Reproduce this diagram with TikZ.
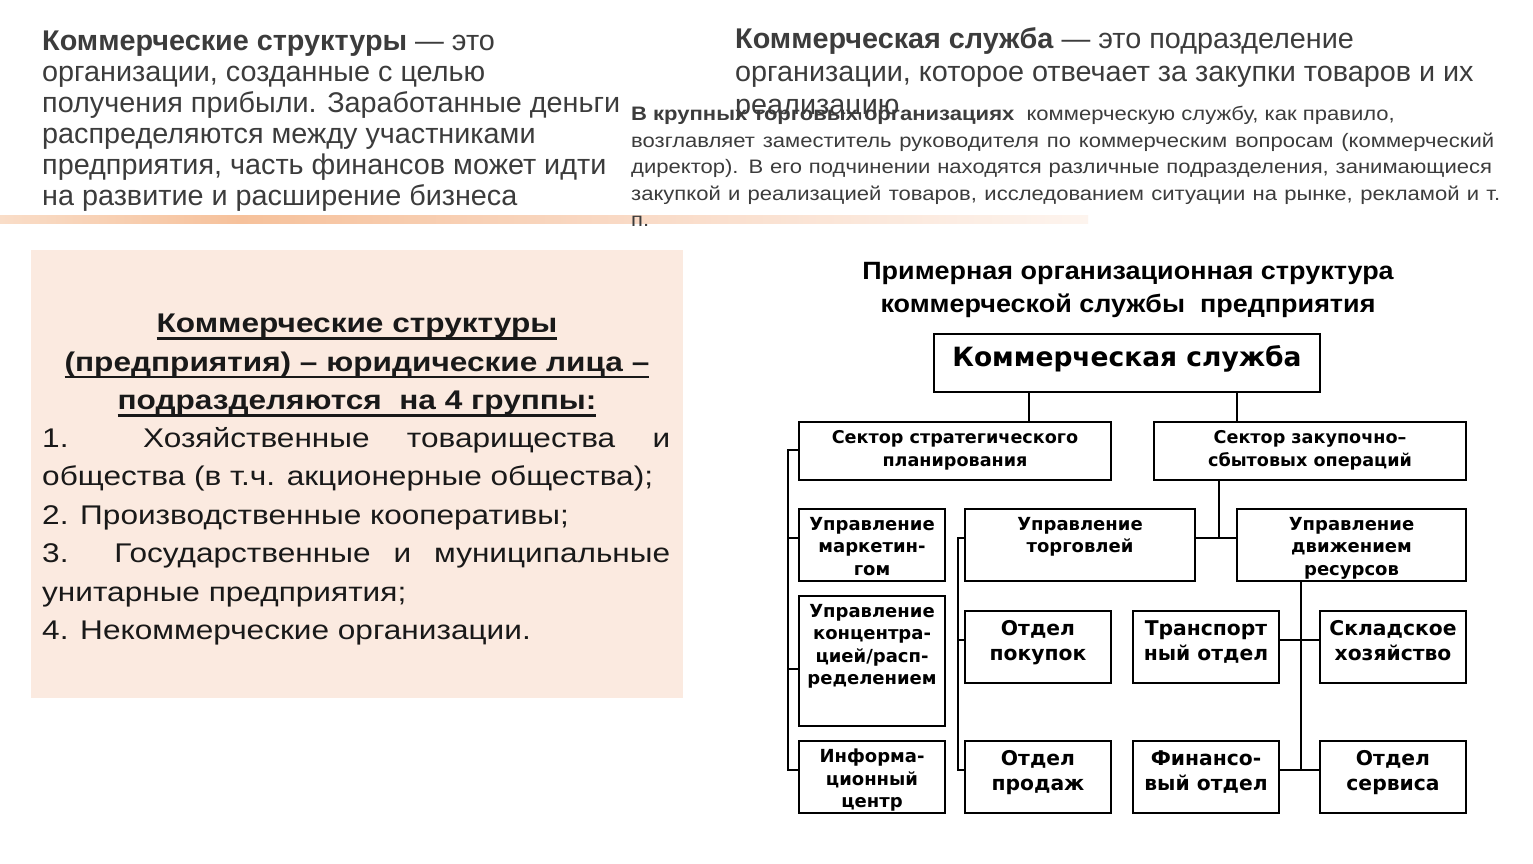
\documentclass[tikz,border=0pt]{standalone}
\usepackage{fontspec}
\setmainfont{Liberation Sans}
\newfontfamily\verd{DejaVu Sans}
\newfontfamily\topfont[FakeStretch=1.01]{Liberation Sans}
\newfontfamily\parafont[FakeStretch=1.13]{Liberation Sans}
\newfontfamily\pinkfont[FakeStretch=1.17]{Liberation Sans}
\newfontfamily\titfont[FakeStretch=1.078]{Liberation Sans}
\usetikzlibrary{calc}
\hyphenpenalty=10000
\exhyphenpenalty=10000
\definecolor{peach}{RGB}{251,234,224}
\definecolor{barA}{RGB}{249,221,200}
\definecolor{barB}{RGB}{246,193,155}
\definecolor{barM}{RGB}{249,218,198}
\definecolor{barC}{RGB}{253,244,238}
\definecolor{gtxt}{RGB}{60,60,60}
\definecolor{btxt}{RGB}{25,25,25}
\pgfdeclarehorizontalshading{barshade}{100bp}{color(0bp)=(barA); color(25bp)=(barA); color(36bp)=(barB); color(54bp)=(barM); color(75bp)=(barC); color(100bp)=(barC)}
\newcommand{\myul}[1]{\leavevmode\setbox0\hbox{#1}\rlap{\rule[-7pt]{\wd0}{2.5pt}}\box0}
\newcommand{\jline}[2]{\makebox[#1][s]{#2}}
\begin{document}
\begin{tikzpicture}[x=1pt,y=-1pt,
  box/.style={draw=black, line width=2pt, inner sep=0pt, outer sep=0pt, anchor=north west},
  lab/.style={font=\verd\bfseries\fontsize{18}{22.5}\selectfont, align=center, anchor=north, inner sep=0pt, text=black},
  labbig/.style={font=\verd\bfseries\fontsize{20.3}{25}\selectfont, align=center, anchor=north, inner sep=0pt, text=black},
  conn/.style={line width=2pt, draw=black},
]
\useasboundingbox (0,0) rectangle (1533,864);
\fill[white] (0,0) rectangle (1533,864);
% gradient bar
\shade[shading=barshade] (0,215) rectangle (1088,223);

% top-left text
\node[anchor=north west, inner sep=0pt, align=left, font=\topfont\fontsize{28.5}{31}\selectfont, text=gtxt] (tl) at (42,31)
 {\textbf{Коммерческие структуры} — это\\организации, созданные с целью\\получения прибыли. Заработанные деньги\\распределяются между участниками\\предприятия, часть финансов может идти\\на развитие и расширение бизнеса};

% top-right text
\node[anchor=north west, inner sep=0pt, align=left, font=\topfont\fontsize{28.5}{33}\selectfont, text=gtxt] (tr) at (735,27)
 {\textbf{Коммерческая служба} — это подразделение\\организации, которое отвечает за закупки товаров и их\\реализацию};

% small paragraph
\node[anchor=north west, inner sep=0pt, align=left, font=\parafont\fontsize{19.5}{26.5}\selectfont, text=gtxt] (para) at (631,106)
 {\textbf{В крупных торговых организациях}\ \ коммерческую службу, как правило,\\
  \jline{863pt}{возглавляет заместитель руководителя по коммерческим вопросам (коммерческий}\\
  \jline{861pt}{директор). В его подчинении находятся различные подразделения, занимающиеся}\\
  \jline{869pt}{закупкой и реализацией товаров, исследованием ситуации на рынке, рекламой и т.}\\
  п.};

% pink box
\node[box, draw=none, fill=peach, minimum width=652pt, minimum height=448pt] (pink) at (31,250) {};
\node[anchor=north, inner sep=0pt, align=center, font=\pinkfont\bfseries\fontsize{27}{38.5}\selectfont, text=btxt] (ptitle) at (357,314)
 {\myul{Коммерческие структуры}\\\myul{(предприятия) – юридические лица –}\\\myul{подразделяются\ \ на 4 группы:}};
\node[anchor=north west, inner sep=0pt, align=left, font=\pinkfont\fontsize{27}{38.5}\selectfont, text=btxt] (plist) at (42,427)
 {\jline{628pt}{1.\ \ Хозяйственные товарищества и}\\
  общества\ (в т.ч. акционерные\ общества);\\
  2. Производственные\ кооперативы;\\
  \jline{628pt}{3.\ \ Государственные и муниципальные}\\
  унитарные предприятия;\\
  4. Некоммерческие\ организации.};

% chart title
\node[anchor=north, inner sep=0pt, align=center, font=\titfont\bfseries\fontsize{25}{33}\selectfont, text=black] (ctitle) at (1128,262)
 {Примерная организационная структура\\коммерческой службы\ \ предприятия};

% boxes
\node[box, minimum width=386pt, minimum height=58pt] (top) at (934,334) {};
\node[box, minimum width=312pt, minimum height=58pt] (sec1) at (799,422) {};
\node[box, minimum width=312pt, minimum height=58pt] (sec2) at (1154,422) {};
\node[box, minimum width=146pt, minimum height=72pt] (mark) at (799,509) {};
\node[box, minimum width=146pt, minimum height=130pt] (conc) at (799,596) {};
\node[box, minimum width=146pt, minimum height=72pt] (info) at (799,741) {};
\node[box, minimum width=230pt, minimum height=72pt] (trade) at (965,509) {};
\node[box, minimum width=229pt, minimum height=72pt] (move) at (1237,509) {};
\node[box, minimum width=146pt, minimum height=72pt] (pok) at (965,611) {};
\node[box, minimum width=146pt, minimum height=72pt] (trans) at (1133,611) {};
\node[box, minimum width=146pt, minimum height=72pt] (sklad) at (1320,611) {};
\node[box, minimum width=146pt, minimum height=72pt] (prod) at (965,741) {};
\node[box, minimum width=146pt, minimum height=72pt] (fin) at (1133,741) {};
\node[box, minimum width=146pt, minimum height=72pt] (serv) at (1320,741) {};

% labels
\node[lab, font=\verd\bfseries\fontsize{26.5}{30}\selectfont] (toptxt) at ([yshift=-11pt]top.north) {Коммерческая служба};
\node[lab, font=\verd\bfseries\fontsize{17.6}{23}\selectfont] (sec1txt) at ([yshift=-8pt]sec1.north) {Сектор стратегического\\планирования};
\node[lab, font=\verd\bfseries\fontsize{17.6}{23}\selectfont] (sec2txt) at ([yshift=-8pt]sec2.north) {Сектор закупочно–\\сбытовых операций};
\node[lab] (marktxt) at ([yshift=-8pt]mark.north) {Управление\\маркетин-\\гом};
\node[lab] (conctxt) at ([yshift=-8pt]conc.north) {Управление\\концентра-\\цией/расп-\\ределением};
\node[lab] (infotxt) at ([yshift=-8pt]info.north) {Информа-\\ционный\\центр};
\node[lab] (tradetxt) at ([yshift=-8pt]trade.north) {Управление\\торговлей};
\node[lab] (movetxt) at ([yshift=-8pt]move.north) {Управление\\движением\\ресурсов};
\node[labbig] (poktxt) at ([yshift=-9pt]pok.north) {Отдел\\покупок};
\node[labbig] (transtxt) at ([yshift=-9pt]trans.north) {Транспорт\\ный отдел};
\node[labbig] (skladtxt) at ([yshift=-9pt]sklad.north) {Складское\\хозяйство};
\node[labbig] (prodtxt) at ([yshift=-9pt]prod.north) {Отдел\\продаж};
\node[labbig] (fintxt) at ([yshift=-9pt]fin.north) {Финансо-\\вый отдел};
\node[labbig] (servtxt) at ([yshift=-9pt]serv.north) {Отдел\\сервиса};

% connectors
\coordinate (t1) at ($(top.south west)!0.246!(top.south east)$);
\coordinate (t2) at ($(top.south west)!0.785!(top.south east)$);
\draw[conn] (t1) -- (t1 |- sec1.north);
\draw[conn] (t2) -- (t2 |- sec2.north);
% left bus
\coordinate (busL) at (788,451);
\draw[conn] ([yshift=1pt]sec1.west) -- ([yshift=1pt]sec1.west -| busL) -- ([yshift=7pt]busL |- info.west) -- ([yshift=7pt]info.west);
\draw[conn] ([yshift=7pt]busL |- mark.west) -- ([yshift=7pt]mark.west);
\draw[conn] ([yshift=-8pt]busL |- conc.west) -- ([yshift=-8pt]conc.west);
% sector 2 to trade / move
\coordinate (s2) at (1219,480);
\draw[conn] (s2) -- ([yshift=7pt]s2 |- trade.east);
\draw[conn] ([yshift=7pt]trade.east) -- ([yshift=7pt]move.west);
% trade bus
\coordinate (busT) at (958,538);
\draw[conn] ([yshift=7pt]trade.west) -- ([yshift=7pt]busT |- trade.west) -- ([yshift=7pt]busT |- prod.west) -- ([yshift=7pt]prod.west);
\draw[conn] ([yshift=7pt]busT |- pok.west) -- ([yshift=7pt]pok.west);
% resource bus
\coordinate (busR) at (1301,581);
\draw[conn] (busR |- move.south) -- ([yshift=7pt]busR |- fin.east);
\draw[conn] ([yshift=7pt]trans.east) -- ([yshift=7pt]sklad.west);
\draw[conn] ([yshift=7pt]fin.east) -- ([yshift=7pt]serv.west);
\end{tikzpicture}
\end{document}
